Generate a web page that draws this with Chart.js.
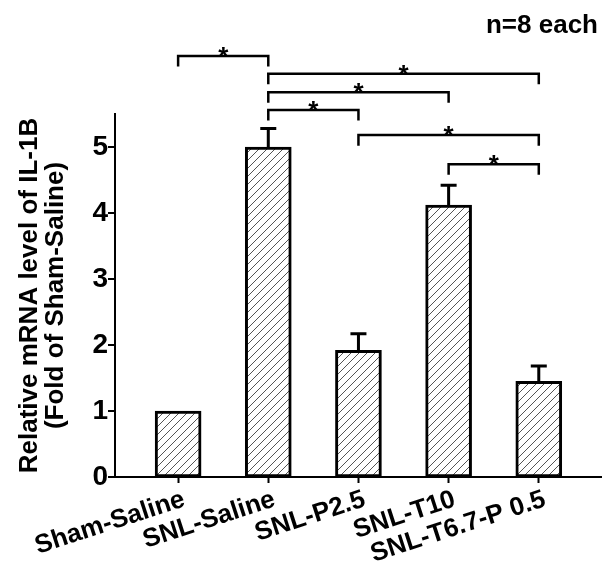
<!DOCTYPE html>
<html>
<head>
<meta charset="utf-8">
<script src="https://cdn.jsdelivr.net/npm/chart.js@4.4.1/dist/chart.umd.min.js"></script>
<style>
  html, body { margin: 0; padding: 0; background: #fff; }
  #wrap { width: 607px; height: 565px; }
</style>
</head>
<body>
<div id="wrap"><canvas id="bar-chart" width="607" height="565"></canvas></div>
<script>
const groups = ['Sham-Saline', 'SNL-Saline', 'SNL-P2.5', 'SNL-T10', 'SNL-T6.7-P 0.5'];
const means = [1.0, 5.0, 1.92, 4.12, 1.45];
const errUp = [0, 0.28, 0.25, 0.30, 0.23];
const yTicks = [0, 1, 2, 3, 4, 5];
// significance brackets: from group -> to group, bracket height in fold units
const sigFrom = [0, 1, 1, 1, 2, 3];
const sigTo = [1, 4, 3, 2, 4, 4];
const sigLevel = [6.38, 6.11, 5.83, 5.56, 5.18, 4.74];
const sigDrop = 0.16;

const FONT = "'Liberation Sans', Arial, sans-serif";
const barCanvas = document.getElementById('bar-chart');

// diagonal hatch fill like the original figure
const makeHatch = () => {
  const c = document.createElement('canvas');
  c.width = 8; c.height = 8;
  const g = c.getContext('2d');
  g.fillStyle = '#fff';
  g.fillRect(0, 0, 8, 8);
  g.strokeStyle = '#555';
  g.lineWidth = 1;
  g.beginPath();
  g.moveTo(-2, 10); g.lineTo(10, -2);
  g.moveTo(-2, 2); g.lineTo(2, -2);
  g.moveTo(6, 10); g.lineTo(10, 6);
  g.stroke();
  return barCanvas.getContext('2d').createPattern(c, 'repeat');
};

const extras = {
  id: 'extras',
  afterDatasetsDraw(chart) {
    const { ctx, scales: { x, y } } = chart;
    ctx.save();
    ctx.strokeStyle = '#000';
    ctx.fillStyle = '#000';

    // upper error bars
    ctx.lineWidth = 3;
    means.forEach((m, i) => {
      if (!errUp[i]) return;
      const px = x.getPixelForValue(i);
      const y0 = y.getPixelForValue(m);
      const y1 = y.getPixelForValue(m + errUp[i]);
      ctx.beginPath();
      ctx.moveTo(px, y0); ctx.lineTo(px, y1);
      ctx.moveTo(px - 8, y1); ctx.lineTo(px + 8, y1);
      ctx.stroke();
    });

    // y axis major / minor tick marks
    ctx.lineWidth = 2;
    const left = chart.chartArea.left;
    y.ticks.forEach(t => {
      const py = y.getPixelForValue(t.value);
      const len = yTicks.includes(t.value) ? 7 : 4;
      ctx.beginPath();
      ctx.moveTo(left - len, py); ctx.lineTo(left, py);
      ctx.stroke();
    });

    // significance brackets
    ctx.lineWidth = 2.5;
    ctx.font = 'bold 26px ' + FONT;
    ctx.textAlign = 'center';
    ctx.textBaseline = 'alphabetic';
    sigFrom.forEach((a, k) => {
      const xa = x.getPixelForValue(a);
      const xb = x.getPixelForValue(sigTo[k]);
      const yl = y.getPixelForValue(sigLevel[k]);
      const yd = y.getPixelForValue(sigLevel[k] - sigDrop);
      ctx.beginPath();
      ctx.moveTo(xa, yd); ctx.lineTo(xa, yl); ctx.lineTo(xb, yl); ctx.lineTo(xb, yd);
      ctx.stroke();
      ctx.fillText('*', (xa + xb) / 2, yl + 9);
    });

    ctx.font = 'bold 26px ' + FONT;
    ctx.textAlign = 'right';
    ctx.fillText('n=8 each', 598, 33);
    ctx.restore();
  }
};

const barChart = new Chart(barCanvas, {
  type: 'bar',
  data: {
    datasets: [{
      data: means.map((m, i) => ({ x: i, y: m })),
      backgroundColor: makeHatch(),
      borderColor: '#000',
      borderWidth: 3,
      borderSkipped: false,
      barThickness: 46,
    }]
  },
  options: {
    responsive: false,
    animation: false,
    layout: { padding: { top: 114, right: 6, left: 0, bottom: 0 } },
    plugins: {
      legend: { display: false },
      tooltip: { enabled: false },
    },
    scales: {
      x: {
        type: 'linear',
        offset: false,
        min: -0.7,
        max: 4.69,
        afterBuildTicks: s => { s.ticks = groups.map((g, i) => ({ value: i })); },
        afterFit: s => { s.height = 88; },
        ticks: {
          autoSkip: false,
          minRotation: 18,
          maxRotation: 18,
          padding: 1,
          labelOffset: 6,
          color: '#000',
          font: { family: FONT, size: 26, weight: 'bold' },
          callback: v => groups[v],
        },
        grid: { display: true, offset: false, drawOnChartArea: false, tickLength: 6, tickWidth: 2, tickColor: '#000' },
        border: { display: true, color: '#000', width: 2 },
      },
      y: {
        min: 0,
        max: 5.5,
        afterFit: s => { s.width = 115; },
        ticks: {
          stepSize: 0.5,
          padding: 7,
          color: '#000',
          font: { family: FONT, size: 28, weight: 'bold' },
          callback: v => (yTicks.includes(v) ? v : ''),
        },
        grid: { display: false, drawTicks: false },
        border: { display: true, color: '#000', width: 2 },
        title: {
          display: true,
          text: ['Relative mRNA level of IL-1B', '(Fold of Sham-Saline)'],
          color: '#000',
          font: { family: FONT, size: 26, weight: 'bold', lineHeight: 1.0 },
          padding: { top: 17, bottom: 0 },
        },
      },
    },
  },
  plugins: [extras],
});
</script>
</body>
</html>
